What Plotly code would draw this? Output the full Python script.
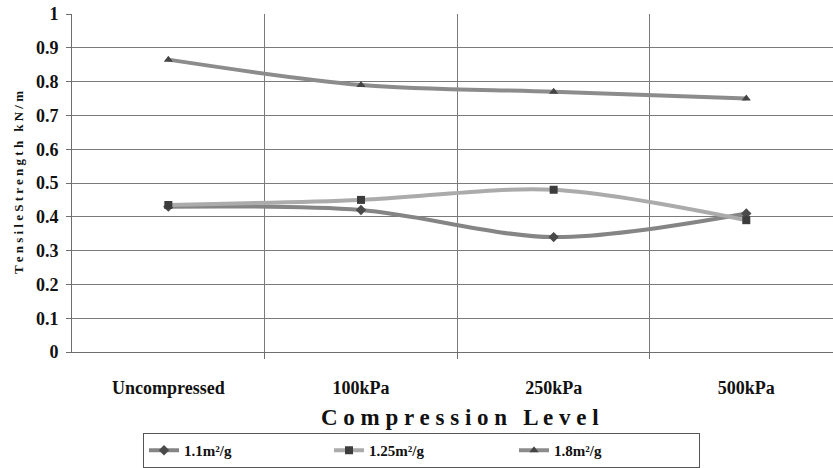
import plotly.graph_objects as go

# Compression levels and tensile strength (kN/m) per specific surface area
levels = ["Uncompressed", "100kPa", "250kPa", "500kPa"]
s_1_1 = [0.43, 0.42, 0.34, 0.41]
s_1_25 = [0.435, 0.45, 0.48, 0.39]
s_1_8 = [0.865, 0.79, 0.77, 0.75]
y_ticks = [0, 0.1, 0.2, 0.3, 0.4, 0.5, 0.6, 0.7, 0.8, 0.9, 1]

FONT = "Liberation Serif"
INK = "#111111"


def spaced(text, gap=" "):
    """Spread the letters of each word apart, keeping a wider gap between words."""
    return "\u2002\u2009".join(gap.join(word) for word in text.split(" "))


x_pos = list(range(len(levels)))

series = [
    ("1.1m²/g", s_1_1, "#858585", "diamond", "#4a4a4a"),
    ("1.25m²/g", s_1_25, "#ababab", "square", "#3c3c3c"),
    ("1.8m²/g", s_1_8, "#8c8c8c", "triangle-up", "#444444"),
]

fig = go.Figure()
for name, vals, lcol, sym, mcol in series:
    fig.add_trace(go.Scatter(
        x=x_pos, y=vals, name=f"<b>{name}</b>", mode="lines+markers",
        line=dict(color=lcol, width=4, shape="spline", smoothing=0.9),
        marker=dict(symbol=sym, size=8, color=mcol),
    ))

fig.update_layout(
    width=833, height=468,
    margin=dict(l=72, r=0, t=14, b=112),
    paper_bgcolor="white", plot_bgcolor="white",
    font=dict(family=FONT, color=INK),
    showlegend=True,
    legend=dict(
        orientation="h", x=0.0933, y=-0.24, xanchor="left", yanchor="top",
        bordercolor="#555555", borderwidth=1,
        font=dict(family=FONT, size=15, color=INK),
        entrywidth=140, entrywidthmode="pixels", itemwidth=30,
    ),
    xaxis=dict(
        range=[-0.5, 3.45], tickmode="array", tickvals=x_pos,
        ticktext=[f"<b>{t}</b>" for t in levels],
        ticks="", showgrid=False, zeroline=False,
        showline=True, linecolor="#6e6e6e", linewidth=1,
        tickfont=dict(family=FONT, size=18, color=INK),
        ticklabelstandoff=19,
        minor=dict(tickvals=[0.5, 1.5, 2.5], ticks="outside", ticklen=6,
                   tickcolor="#6e6e6e", showgrid=True, gridcolor="#7a7a7a",
                   gridwidth=1),
    ),
    yaxis=dict(
        range=[0, 1], tickmode="array", tickvals=y_ticks,
        ticktext=[f"<b>{v:g}</b>" for v in y_ticks],
        ticks="outside", ticklen=5, tickcolor="#6e6e6e",
        showgrid=True, gridcolor="#7a7a7a", gridwidth=1, zeroline=False,
        showline=True, linecolor="#6e6e6e", linewidth=1,
        tickfont=dict(family=FONT, size=18, color=INK),
        ticklabelstandoff=4,
    ),
    annotations=[
        dict(text=f"<b>{spaced('Compression Level')}</b>", xref="paper", yref="paper",
             x=(460 - 72) / 761, y=-0.193, xanchor="center", yanchor="middle",
             showarrow=False,
             font=dict(family=FONT, size=23, color=INK)),
        dict(text=f"<b>{spaced('TensileStrength kN/m')}</b>", xref="paper", yref="paper",
             x=(18 - 72) / 761, y=0.5, xanchor="center", yanchor="middle",
             textangle=-90, showarrow=False,
             font=dict(family=FONT, size=13, color=INK)),
    ],
)

fig.write_html("out.html")
